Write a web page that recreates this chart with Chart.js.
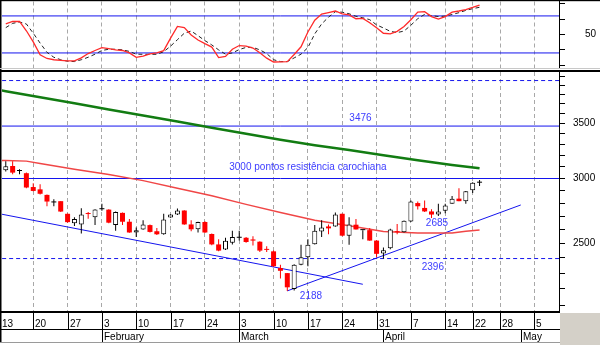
<!DOCTYPE html>
<html>
<head>
<meta charset="utf-8">
<script src="https://cdn.jsdelivr.net/npm/chart.js@4.4.1/dist/chart.umd.min.js"></script>
<style>
  html, body { margin: 0; padding: 0; background: #fff; }
  #wrap { position: relative; width: 600px; height: 345px; overflow: hidden; background: #fff; }
  canvas { position: absolute; left: 0; }
  #osc { top: 0; }
  #price { top: 70px; }
</style>
</head>
<body>
<div id="wrap">
  <canvas id="osc" width="600" height="70"></canvas>
  <canvas id="price" width="600" height="275"></canvas>
</div>
<script>
// ---- daily sessions, first one is 14 Jan (session 0) ----
const openP = [3070,3107,3064,3045,2929,2910,2865,2805,2815,2717,
  2646,2637,2722,2690,2752,2749,2632,2724,2657,2578,
  2600,2632,2587,2565,2688,2711,2742,2637,2601,2655,
  2567,2493,2457,2505,2540,2540,2528,2512,2460,2445,
  2333,2300,2200,2355,2405,2495,2585,2622,2622,2717,
  2555,2635,2595,2595,2520,2430,2467,2585,2580,2658,
  2800,2762,2735,2711,2740,2795,2835,2815,2903,2965];
const highP = [3150,3150,3080,3050,2960,2951,2868,2830,2815,2720,
  2690,2760,2730,2752,2795,2752,2735,2726,2677,2615,
  2669,2636,2610,2718,2713,2757,2745,2669,2657,2660,
  2570,2530,2540,2590,2590,2545,2550,2515,2480,2450,
  2355,2300,2358,2490,2530,2632,2669,2637,2727,2720,
  2690,2677,2595,2610,2522,2472,2605,2640,2667,2820,
  2812,2820,2752,2795,2795,2857,2920,2897,2968,2987];
const lowP = [3060,3035,3035,2920,2895,2868,2775,2775,2730,2650,
  2625,2570,2680,2633,2740,2645,2590,2632,2576,2545,
  2598,2578,2560,2562,2686,2708,2635,2587,2578,2575,
  2488,2445,2455,2493,2520,2505,2485,2440,2440,2340,
  2265,2188,2190,2352,2345,2493,2545,2565,2620,2550,
  2490,2600,2530,2518,2405,2396,2460,2565,2578,2655,
  2749,2730,2685,2700,2722,2795,2815,2795,2880,2938];
const closeP = [3105,3050,3064,2925,2897,2874,2812,2805,2734,2654,
  2677,2711,2715,2750,2752,2650,2731,2657,2578,2595,
  2637,2582,2565,2674,2711,2742,2637,2601,2655,2578,
  2493,2450,2518,2545,2540,2510,2520,2450,2455,2345,
  2315,2210,2355,2405,2490,2590,2615,2608,2711,2555,
  2637,2600,2595,2520,2428,2453,2600,2580,2665,2812,
  2775,2735,2711,2735,2780,2835,2815,2895,2965,2965];

// stochastic oscillator (%K and %D), one value per session
const stochK = [67,71,71,56,38,17,11,9,8,7,
  7,12,19,24,28.5,27,25,24,20,13,
  15,18.5,20,23.7,44,63,61,49,41,35,
  29.5,12.5,14.5,26,32,31,28,20.4,11.5,5.3,
  5.5,5.8,17.4,30,54,73,83,85.5,88,83.5,
  81.7,75.4,76.1,69,61,51.9,51,55,63,73.8,
  86.3,86.9,79,75,79,86,88,90.3,93.7,97.7];
const stochD = [61,68,70,67,52,36,21,13,9,6.5,
  6,9,13,18,24,26,26,25,22.5,18,
  17.8,17.8,17.8,22,31,41.5,52,55.5,48,40,
  33,25,18,20,25.5,29,29,25,19,9,
  6,6,12,18,28.7,51,67,78,86.9,86,
  83.5,79.4,77,74,65.5,60.5,55,53,55.5,65,
  75.5,82.5,80.5,79,79.7,82.3,85.3,89,91.8,94];
const stochUpper = 80;
const stochLower = 20;
const stochTicks = [0, 25, 50, 75, 100];
const stochLabels = [50];

// moving averages
const longMaSessions = [-1,0,5,10,15,20,25,30,35,40,45,50,55,60,65,69];
const longMaValues = [3847,3834,3769,3705,3642,3581,3520,3460,3402,3344,3294,3250,3202,3157,3116,3087];
const midMaSessions = [-1,0,3,5,10,15,20,25,30,35,40,45,50,55,60,65,67,69];
const midMaValues = [3156,3156,3150,3129,3079,3034,2982,2919,2858,2790,2727,2668,2627,2585,2574,2574,2587,2596];

// trend lines
const downTrendSessions = [-1, 52];
const downTrendValues = [2718, 2229];
const upTrendSessions = [41, 75];
const upTrendValues = [2188, 2785];

// horizontal levels
const topBandLevel = 3950;
const level3476 = 3476;
const level3000 = 3000;
const level2396 = 2396;

// price axis
const priceTicks = [2100,2200,2300,2400,2500,2600,2700,2800,2900,3000,3100,3200,3300,3400,3500,3600,3700,3800,3900,4000];
const priceLabels = [2500, 3000, 3500];

// date axis
const weekLabels = ['13','20','27','3','10','17','24','3','10','17','24','31','7','14','22','28','5'];
const weekSessions = [-1,4,9,14,19,24,29,34,39,44,49,54,59,64,68,72,77];
const monthLabels = ['February','March','April','May'];
const monthSessions = [14,34,55,75];

// ---- shared setup ----
const FONT = '"Liberation Sans", Arial, sans-serif';
Chart.defaults.font.family = FONT;
Chart.defaults.font.size = 10;
Chart.defaults.color = '#000';

const X_MIN = -0.55, X_MAX = 80.57;
const BLUE = '#1414ee';
const NOTE_BLUE = '#3c3cff';
const GRID = '#a8a8a8';

function xAxis(height) {
  return {
    type: 'linear', min: X_MIN, max: X_MAX, offset: false,
    ticks: { display: false, autoSkip: false },
    grid: { display: true, color: GRID, lineWidth: 1, drawTicks: false, offset: false },
    border: { display: false, dash: [4, 3] },
    afterBuildTicks(s) {
      s.ticks = weekSessions.filter(v => v >= X_MIN && v <= X_MAX).map(v => ({ value: v }));
    },
    afterFit(s) { s.height = height; s.paddingLeft = 0; s.paddingRight = 0; }
  };
}

function hLine(value, color, dashed, order) {
  return {
    type: 'line', order,
    data: [{ x: X_MIN - 1, y: value }, { x: X_MAX + 1, y: value }],
    borderColor: color, borderWidth: 1, borderDash: dashed ? [4, 3] : [],
    pointRadius: 0, tension: 0
  };
}

function seriesLine(xs, ys, color, width, order, dash) {
  return {
    type: 'line', order,
    data: xs.map((x, k) => ({ x, y: ys[k] })),
    borderColor: color, borderWidth: width, borderDash: dash || [],
    pointRadius: 0, tension: 0
  };
}

// ---- oscillator panel ----
new Chart(document.getElementById('osc'), {
  type: 'line',
  data: {
    datasets: [
      hLine(stochUpper, BLUE, false, 5),
      hLine(stochLower, BLUE, false, 5),
      seriesLine(stochD.map((_, i) => i), stochD, '#222', 1, 2, [4, 3]),
      seriesLine(stochK.map((_, i) => i), stochK, '#ff2a2a', 1.3, 1)
    ]
  },
  options: {
    responsive: false, animation: false, devicePixelRatio: 1,
    layout: { padding: { left: 2, top: 1.5, right: 0, bottom: 2 } },
    plugins: { legend: { display: false }, tooltip: { enabled: false } },
    scales: {
      x: xAxis(0),
      y: {
        type: 'linear', position: 'right', min: -4.4, max: 103.4,
        ticks: { autoSkip: false, padding: 20, callback: v => stochLabels.includes(v) ? String(v) : '' },
        grid: { drawOnChartArea: false, drawTicks: true, tickLength: 6, tickColor: '#000' },
        border: { display: true, color: '#000', width: 1 },
        afterBuildTicks(s) { s.ticks = stochTicks.map(v => ({ value: v })); },
        afterFit(s) { s.width = 41; s.paddingTop = 0; s.paddingBottom = 0; }
      }
    }
  },
  plugins: [{
    id: 'oscFrame',
    afterDraw(chart) {
      const { ctx, width, height } = chart;
      ctx.save();
      ctx.fillStyle = '#000';
      ctx.fillRect(0, 0, width, 1.2);
      ctx.fillRect(0, 0, 1.5, height);
      ctx.fillStyle = '#c8c8c8';
      ctx.fillRect(0, 68, width, 1);
      ctx.restore();
    }
  }]
});

// ---- price panel ----
const sessions = openP.map((_, i) => i);
const rising = sessions.map(i => closeP[i] >= openP[i]);
const flat = sessions.map(i => closeP[i] === openP[i]);

const wicks = {
  type: 'bar', order: 2, grouped: false,
  data: sessions.map(i => ({ x: i, y: [lowP[i], highP[i]] })),
  backgroundColor: sessions.map(i => rising[i] ? '#000' : '#f00'),
  borderWidth: 0, borderSkipped: false, barThickness: 1, inflateAmount: 0
};
const bodies = {
  type: 'bar', order: 1, grouped: false,
  data: sessions.map(i => ({ x: i, y: [openP[i], closeP[i]] })),
  backgroundColor: sessions.map(i => flat[i] ? '#000' : (rising[i] ? '#fff' : '#f00')),
  borderColor: sessions.map(i => rising[i] ? '#000' : '#f00'),
  borderWidth: sessions.map(i => (rising[i] && !flat[i]) ? 1 : 0),
  borderSkipped: false, barThickness: 5, minBarLength: 1, inflateAmount: 0
};

const notes = [
  { text: '3476', session: 51.66, value: level3476, dy: -8 },
  { text: '3000 pontos resistência carochiana', session: 44.0, value: level3000, dy: -11 },
  { text: '2396', session: 62.2, value: level2396, dy: 8.5 },
  { text: '2188', session: 44.45, value: lowP[41], dy: 5 },
  { text: '2685', session: 62.8, value: lowP[62], dy: 5 }
];

new Chart(document.getElementById('price'), {
  type: 'bar',
  data: {
    datasets: [
      hLine(topBandLevel, BLUE, true, 9),
      hLine(level3476, BLUE, false, 9),
      hLine(level3000, BLUE, false, 9),
      hLine(level2396, BLUE, true, 9),
      seriesLine(downTrendSessions, downTrendValues, BLUE, 1, 8),
      seriesLine(upTrendSessions, upTrendValues, BLUE, 1, 8),
      seriesLine(longMaSessions, longMaValues, '#127c12', 2.5, 7),
      seriesLine(midMaSessions, midMaValues, '#f04646', 1.4, 7),
      wicks,
      bodies
    ]
  },
  options: {
    responsive: false, animation: false, devicePixelRatio: 1,
    layout: { padding: { left: 2, top: 2, right: 0, bottom: 0 } },
    plugins: { legend: { display: false }, tooltip: { enabled: false } },
    scales: {
      x: xAxis(33),
      y: {
        type: 'logarithmic', position: 'right', min: 2062, max: 4046,
        ticks: { autoSkip: false, padding: 8, callback: v => priceLabels.includes(v) ? String(v) : '' },
        grid: { drawOnChartArea: false, drawTicks: true, tickLength: 6, tickColor: '#000' },
        border: { display: true, color: '#000', width: 1 },
        afterBuildTicks(s) { s.ticks = priceTicks.map(v => ({ value: v })); },
        afterFit(s) { s.width = 41; s.paddingTop = 0; s.paddingBottom = 0; }
      }
    }
  },
  plugins: [{
    id: 'priceNotes',
    afterDatasetsDraw(chart) {
      const { ctx, scales: { x, y } } = chart;
      ctx.save();
      ctx.font = '10px ' + FONT;
      ctx.fillStyle = NOTE_BLUE;
      ctx.textAlign = 'center';
      ctx.textBaseline = 'middle';
      notes.forEach(n => ctx.fillText(n.text, x.getPixelForValue(n.session), y.getPixelForValue(n.value) + n.dy));
      ctx.restore();
    }
  }, {
    id: 'dateBand',
    afterDraw(chart) {
      const { ctx, chartArea: a, scales: { x }, width, height } = chart;
      ctx.save();
      // frame
      ctx.fillStyle = '#000';
      ctx.fillRect(0, 0, width, 2);
      ctx.fillRect(0, 0, 1.5, a.bottom + 31);
      ctx.fillRect(0, a.bottom - 1, a.right + 1, 2);
      // grey corner under the price scale
      ctx.fillStyle = '#d4d0c8';
      ctx.fillRect(a.right + 1, a.bottom + 1, width - a.right, height - a.bottom);
      const dayTop = a.bottom + 1;
      const dayBottom = a.bottom + 17;
      const monthBottom = a.bottom + 30;
      ctx.fillStyle = '#000';
      ctx.fillRect(0, dayBottom, a.right + 1, 1);
      ctx.fillStyle = '#9a9a9a';
      ctx.fillRect(0, monthBottom, a.right + 1, 1);
      ctx.font = '10px ' + FONT;
      ctx.textAlign = 'left';
      ctx.textBaseline = 'alphabetic';
      ctx.fillStyle = '#000';
      weekSessions.forEach((s, k) => {
        let px = Math.round(x.getPixelForValue(s));
        if (px < a.left) px = 0;
        ctx.fillRect(px, dayTop, 1, dayBottom - dayTop);
        ctx.fillText(weekLabels[k], px + 2, dayBottom - 2.5);
      });
      monthSessions.forEach((s, k) => {
        const px = Math.round(x.getPixelForValue(s));
        ctx.fillRect(px, dayBottom, 1, monthBottom - dayBottom);
        ctx.fillText(monthLabels[k], px + 2, monthBottom - 2.5);
      });
      ctx.restore();
    }
  }]
});
</script>
</body>
</html>
